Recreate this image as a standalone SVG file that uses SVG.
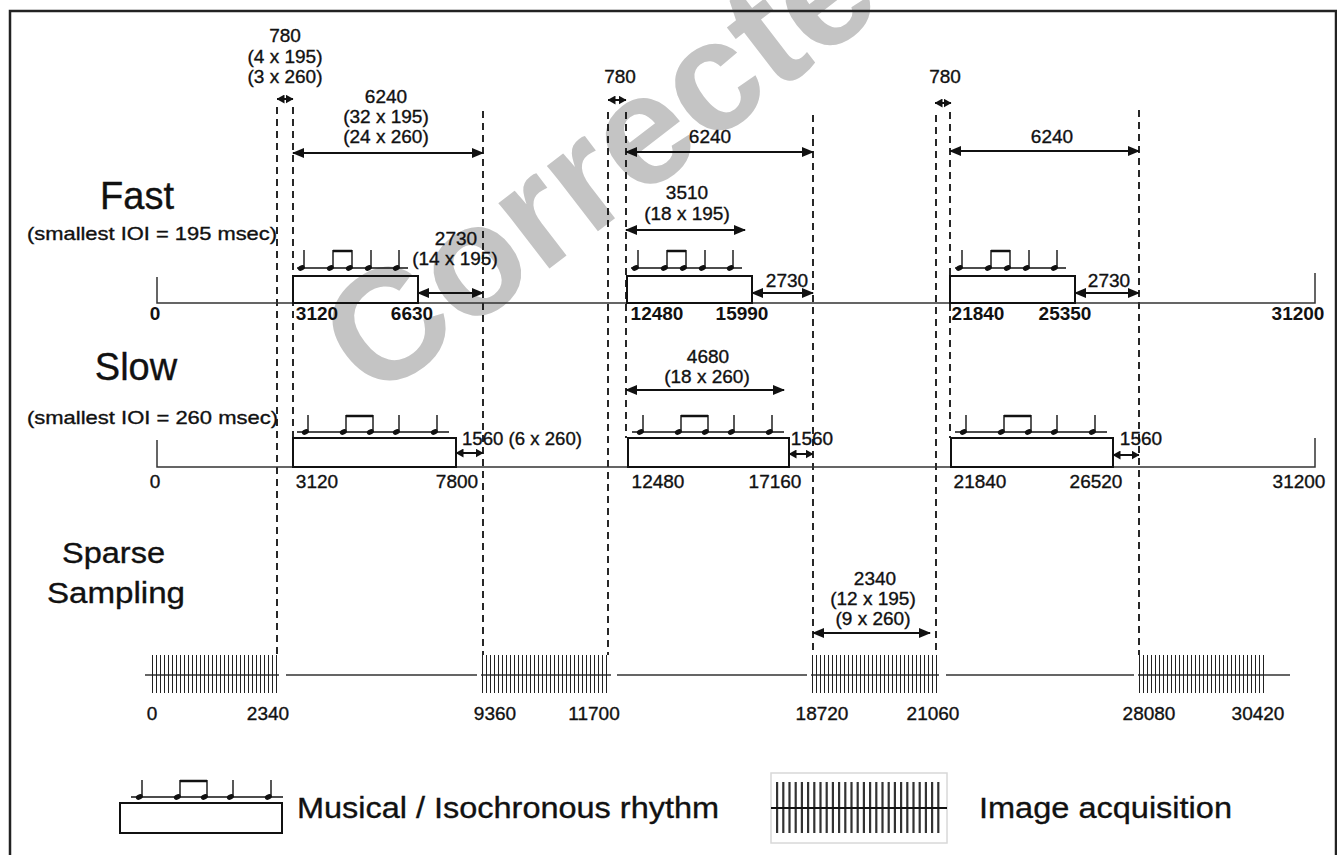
<svg xmlns="http://www.w3.org/2000/svg" width="1337" height="855" viewBox="0 0 1337 855">
<defs>
<style>
text{font-family:"Liberation Sans",Arial,sans-serif;fill:#111}
.t,.tl,.axn,.big,.mid,.leg{stroke:#111;stroke-width:0.35px}
.t{font-size:19px;text-anchor:middle}
.tl{font-size:19px}
.ax{font-size:19px;text-anchor:middle;font-weight:bold}
.axn{font-size:19px;text-anchor:middle}
.big{font-size:38px;text-anchor:middle}
.mid{font-size:29px}
.leg{font-size:30px}
.wm{font-size:157px;font-weight:bold;fill:#c4c4c4}
.axis{stroke:#333;stroke-width:1.5;fill:none}
.dash{stroke:#111;stroke-width:1.8;stroke-dasharray:7 5;fill:none}
.box{fill:none;stroke:#111;stroke-width:2}
.arr{stroke:#111;stroke-width:2;fill:none;marker-start:url(#ah);marker-end:url(#ah)}
.sarr{stroke:#111;stroke-width:2;fill:none;marker-start:url(#ahs);marker-end:url(#ahs)}
.note line{stroke:#111;stroke-width:1.4}
.note ellipse{fill:#111}
.bars{stroke:#222;stroke-width:38;stroke-dasharray:1 3;fill:none}
</style>
<marker id="ah" viewBox="0 0 12 10" refX="11" refY="5" markerWidth="12" markerHeight="10" orient="auto-start-reverse" markerUnits="userSpaceOnUse"><path d="M0,0 L12,5 L0,10 z" fill="#111"/></marker>
<marker id="ahs" viewBox="0 0 8 9" refX="7.5" refY="4.5" markerWidth="8" markerHeight="9" orient="auto-start-reverse" markerUnits="userSpaceOnUse"><path d="M0,0 L8,4.5 L0,9 z" fill="#111"/></marker>
<g id="rf" class="note">
<line x1="4" y1="-8" x2="115" y2="-8"/>
<line x1="11" y1="-26" x2="11" y2="-8"/>
<line x1="40" y1="-26" x2="40" y2="-8"/>
<line x1="59" y1="-26" x2="59" y2="-8"/>
<line x1="78" y1="-26" x2="78" y2="-8"/>
<line x1="106" y1="-26" x2="106" y2="-8"/>
<line x1="40" y1="-25" x2="59" y2="-25" style="stroke-width:2.5"/>
<ellipse cx="8.3" cy="-8" rx="3.6" ry="2.6" transform="rotate(-25 8.3 -8)"/>
<ellipse cx="37.3" cy="-8" rx="3.6" ry="2.6" transform="rotate(-25 37.3 -8)"/>
<ellipse cx="56.3" cy="-8" rx="3.6" ry="2.6" transform="rotate(-25 56.3 -8)"/>
<ellipse cx="75.3" cy="-8" rx="3.6" ry="2.6" transform="rotate(-25 75.3 -8)"/>
<ellipse cx="103.3" cy="-8" rx="3.6" ry="2.6" transform="rotate(-25 103.3 -8)"/>
</g>
<g id="rs" class="note">
<line x1="4" y1="-6" x2="156" y2="-6"/>
<line x1="15" y1="-23" x2="15" y2="-6"/>
<line x1="53" y1="-23" x2="53" y2="-6"/>
<line x1="80" y1="-23" x2="80" y2="-6"/>
<line x1="106" y1="-23" x2="106" y2="-6"/>
<line x1="144" y1="-23" x2="144" y2="-6"/>
<line x1="53" y1="-22" x2="80" y2="-22" style="stroke-width:2.5"/>
<ellipse cx="12.3" cy="-6" rx="3.6" ry="2.6" transform="rotate(-25 12.3 -6)"/>
<ellipse cx="50.3" cy="-6" rx="3.6" ry="2.6" transform="rotate(-25 50.3 -6)"/>
<ellipse cx="77.3" cy="-6" rx="3.6" ry="2.6" transform="rotate(-25 77.3 -6)"/>
<ellipse cx="103.3" cy="-6" rx="3.6" ry="2.6" transform="rotate(-25 103.3 -6)"/>
<ellipse cx="141.3" cy="-6" rx="3.6" ry="2.6" transform="rotate(-25 141.3 -6)"/>
</g>
</defs>
<rect width="1337" height="855" fill="#fff"/>
<g id="watermark"><text class="wm" transform="translate(375,403) rotate(-37.6)">Corrected</text></g>
<rect id="frame" x="10" y="11" width="1326" height="870" fill="none" stroke="#222" stroke-width="2.5"/>

<g id="connectors">
<line class="dash" x1="277" y1="107" x2="277" y2="655"/>
<line class="dash" x1="293" y1="107" x2="293" y2="438"/>
<line class="dash" x1="483" y1="111" x2="483" y2="655"/>
<line class="dash" x1="608" y1="112" x2="608" y2="655"/>
<line class="dash" x1="626" y1="112" x2="626" y2="438"/>
<line class="dash" x1="813" y1="115" x2="813" y2="655"/>
<line class="dash" x1="936" y1="115" x2="936" y2="655"/>
<line class="dash" x1="950" y1="112" x2="950" y2="438"/>
<line class="dash" x1="1139" y1="110" x2="1139" y2="655"/>
<line class="sarr" x1="277" y1="99" x2="293" y2="99"/>
<line class="arr" x1="293" y1="153" x2="483" y2="153"/>
<line class="sarr" x1="608" y1="100" x2="626" y2="100"/>
<line class="arr" x1="626" y1="152" x2="813" y2="152"/>
<line class="arr" x1="626" y1="230" x2="745" y2="230"/>
<line class="sarr" x1="935" y1="103" x2="951" y2="103"/>
<line class="arr" x1="950" y1="151" x2="1139" y2="151"/>
<line class="arr" x1="418" y1="293" x2="483" y2="293"/>
<line class="arr" x1="752" y1="293" x2="813" y2="293"/>
<line class="arr" x1="1075" y1="293" x2="1139" y2="293"/>
<line class="sarr" x1="456" y1="453" x2="483" y2="453"/>
<line class="arr" x1="626" y1="390" x2="784" y2="390"/>
<line class="sarr" x1="789" y1="454" x2="813" y2="454"/>
<line class="sarr" x1="1113" y1="455" x2="1139" y2="455"/>
<line class="arr" x1="813" y1="633" x2="930" y2="633"/>
</g>

<g id="top-labels">
<text class="t" x="285" y="42">780</text>
<text class="t" x="285" y="63">(4 x 195)</text>
<text class="t" x="285" y="83">(3 x 260)</text>
<text class="t" x="386" y="103">6240</text>
<text class="t" x="386" y="123">(32 x 195)</text>
<text class="t" x="386" y="143">(24 x 260)</text>
<text class="t" x="620" y="83">780</text>
<text class="t" x="710" y="143">6240</text>
<text class="t" x="687" y="199">3510</text>
<text class="t" x="687" y="220">(18 x 195)</text>
<text class="t" x="945" y="83">780</text>
<text class="t" x="1052" y="143">6240</text>
</g>

<g id="fast">
<text class="big" x="137" y="209">Fast</text>
<text class="tl" x="27" y="240" textLength="250" lengthAdjust="spacingAndGlyphs">(smallest IOI = 195 msec)</text>
<path class="axis" d="M157,277 V303 H1315 V273"/>
<rect class="box" x="293" y="276" width="125" height="27"/>
<rect class="box" x="627" y="276" width="125" height="27"/>
<rect class="box" x="950" y="276" width="125" height="27"/>
<use href="#rf" x="293" y="276"/>
<use href="#rf" x="627" y="276"/>
<use href="#rf" x="951" y="276"/>
<text class="t" x="456" y="245">2730</text>
<text class="t" x="455" y="265">(14 x 195)</text>
<text class="t" x="787" y="287">2730</text>
<text class="t" x="1109" y="287">2730</text>
<text class="ax" x="155" y="320">0</text>
<text class="ax" x="317" y="320">3120</text>
<text class="ax" x="412" y="320">6630</text>
<text class="ax" x="657" y="320">12480</text>
<text class="ax" x="742" y="320">15990</text>
<text class="ax" x="978" y="320">21840</text>
<text class="ax" x="1065" y="320">25350</text>
<text class="ax" x="1298" y="320">31200</text>
</g>

<g id="slow">
<text class="big" x="136" y="380">Slow</text>
<text class="tl" x="27" y="424" textLength="251" lengthAdjust="spacingAndGlyphs">(smallest IOI = 260 msec)</text>
<path class="axis" d="M157,440 V467 H1315 V438"/>
<rect class="box" x="293" y="438" width="163" height="29"/>
<rect class="box" x="628" y="438" width="161" height="29"/>
<rect class="box" x="951" y="438" width="162" height="29"/>
<use href="#rs" x="293" y="438"/>
<use href="#rs" x="628" y="438"/>
<use href="#rs" x="951" y="438"/>
<text class="tl" x="462" y="445" textLength="120" lengthAdjust="spacingAndGlyphs">1560 (6 x 260)</text>
<text class="t" x="708" y="363">4680</text>
<text class="t" x="707" y="383">(18 x 260)</text>
<text class="t" x="812" y="445">1560</text>
<text class="t" x="1141" y="445">1560</text>
<text class="axn" x="155" y="488">0</text>
<text class="axn" x="317" y="488">3120</text>
<text class="axn" x="457" y="488">7800</text>
<text class="axn" x="658" y="488">12480</text>
<text class="axn" x="775" y="488">17160</text>
<text class="axn" x="980" y="488">21840</text>
<text class="axn" x="1096" y="488">26520</text>
<text class="axn" x="1299" y="488">31200</text>
</g>

<g id="sparse">
<text class="mid" x="62" y="563" textLength="103" lengthAdjust="spacingAndGlyphs">Sparse</text>
<text class="mid" x="47" y="603" textLength="138" lengthAdjust="spacingAndGlyphs">Sampling</text>
<path class="axis" d="M145,675 H279 M286,675 H477 M481,675 H611 M617,675 H807 M811,675 H939 M946,675 H1134 M1138,675 H1290"/>
<line class="bars" x1="152" y1="674" x2="278" y2="674"/>
<line class="bars" x1="482" y1="674" x2="609" y2="674"/>
<line class="bars" x1="812" y1="674" x2="937" y2="674"/>
<line class="bars" x1="1139" y1="674" x2="1265" y2="674"/>
<text class="t" x="875" y="585">2340</text>
<text class="t" x="873" y="605">(12 x 195)</text>
<text class="t" x="873" y="625">(9 x 260)</text>
<text class="axn" x="152" y="720">0</text>
<text class="axn" x="268" y="720">2340</text>
<text class="axn" x="495" y="720">9360</text>
<text class="axn" x="594" y="720">11700</text>
<text class="axn" x="822" y="720">18720</text>
<text class="axn" x="933" y="720">21060</text>
<text class="axn" x="1149" y="720">28080</text>
<text class="axn" x="1258" y="720">30420</text>
</g>

<g id="legend">
<rect class="box" x="120" y="803" width="162" height="30"/>
<use href="#rs" x="127" y="803"/>
<text class="leg" x="297" y="818" textLength="422" lengthAdjust="spacingAndGlyphs">Musical / Isochronous rhythm</text>
<rect x="771" y="773" width="176" height="70" fill="#fff" stroke="#d8d8d8" stroke-width="1.5"/>
<line x1="776" y1="807.5" x2="940" y2="807.5" stroke="#333" stroke-width="51" stroke-dasharray="2.2 4"/>
<line x1="771" y1="808" x2="947" y2="808" stroke="#111" stroke-width="2"/>
<text class="leg" x="979" y="818" textLength="253" lengthAdjust="spacingAndGlyphs">Image acquisition</text>
</g>
</svg>
